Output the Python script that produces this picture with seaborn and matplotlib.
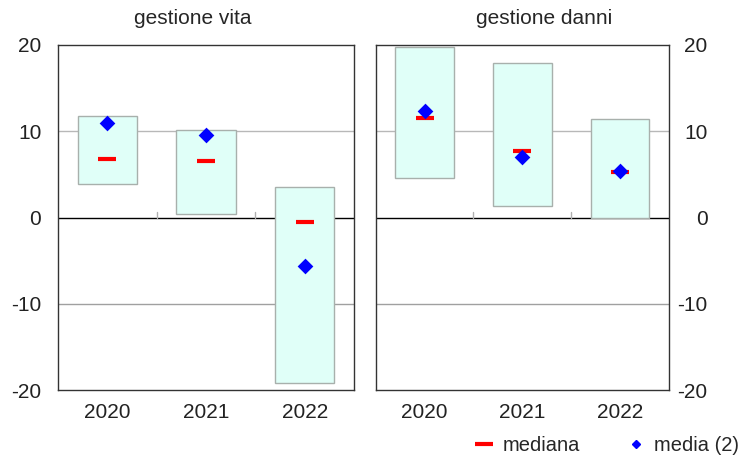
import numpy as np
import pandas as pd
import matplotlib
matplotlib.use("Agg")
import matplotlib.pyplot as plt
import seaborn as sns
from matplotlib.lines import Line2D

sns.set_style("white")
plt.rcParams['font.family'] = ['Liberation Sans', 'DejaVu Sans']
plt.rcParams['axes.unicode_minus'] = False

years = ['2020', '2021', '2022']

# gestione vita
vita_low = [3.9, 0.4, -19.2]
vita_high = [11.8, 10.1, 3.5]
vita_median = [6.8, 6.6, -0.5]
vita_mean = [11.0, 9.6, -5.6]

# gestione danni
danni_low = [4.6, 1.3, 0.0]
danni_high = [19.7, 17.9, 11.4]
danni_median = [11.5, 7.7, 5.3]
danni_mean = [12.3, 7.0, 5.4]

FS = 15

fig = plt.figure(figsize=(7.44, 4.58), dpi=100)
ax1 = fig.add_axes([0.078, 0.148, 0.398, 0.754])
ax2 = fig.add_axes([0.505, 0.148, 0.394, 0.754])

def draw_panel(ax, low, high, med, mean, right=False):
    df = pd.DataFrame({'anno': years, 'low': low, 'high': high,
                       'mediana': med, 'media': mean})
    ax.axhline(10, color='#b8b8b8', lw=1, zorder=0)
    ax.axhline(-10, color='#a0a0a0', lw=1, zorder=0)
    ax.axhline(0, color='black', lw=1, zorder=0.5)
    pos = np.arange(len(df))
    ax.bar(pos, df['high'] - df['low'], bottom=df['low'], width=0.6,
           color='#e0fff8', edgecolor='#a8b0ac', linewidth=1, zorder=1)
    sns.stripplot(data=df, x='anno', y='mediana', ax=ax, jitter=False,
                  marker='_', color='red', size=13, linewidth=3,
                  edgecolor='red', zorder=3)
    sns.stripplot(data=df, x='anno', y='media', ax=ax, jitter=False,
                  marker='D', color='blue', size=8, linewidth=0, zorder=4)
    for b in pos[:-1] + 0.5:
        ax.plot([b, b], [0, 0.7], color='#b0b0b0', lw=1, zorder=0.6)
    ax.set_xlim(-0.5, len(df) - 0.5)
    ax.set_ylim(-20, 20)
    ax.set_yticks([-20, -10, 0, 10, 20])
    ax.set_xlabel('')
    ax.set_ylabel('')
    ax.tick_params(axis='both', length=0, labelsize=FS, colors='#222222')
    ax.tick_params(axis='x', pad=9)
    ax.tick_params(axis='y', pad=12)
    if right:
        ax.yaxis.tick_right()
        ax.tick_params(axis='y', length=0, pad=28)
        for t in ax.get_yticklabels():
            t.set_horizontalalignment('right')
    for s in ax.spines.values():
        s.set_color('#333333')
        s.set_linewidth(1)

draw_panel(ax1, vita_low, vita_high, vita_median, vita_mean)
draw_panel(ax2, danni_low, danni_high, danni_median, danni_mean, right=True)

fig.text(193 / 744, 1 - 18 / 458, 'gestione vita', ha='center', va='center', fontsize=FS)
fig.text(544 / 744, 1 - 18 / 458, 'gestione danni', ha='center', va='center', fontsize=FS)

handles = [Line2D([], [], color='red', marker='_', ls='', markersize=13, mew=3),
           Line2D([], [], color='blue', marker='D', ls='', markersize=4)]
fig.legend(handles, ['mediana', 'media (2)'], loc='lower right',
           bbox_to_anchor=(1.018, -0.034), ncol=2, frameon=False, fontsize=14.5,
           handlelength=0.8, handletextpad=0.5, columnspacing=2.4)

fig.savefig('out.png', dpi=100)
